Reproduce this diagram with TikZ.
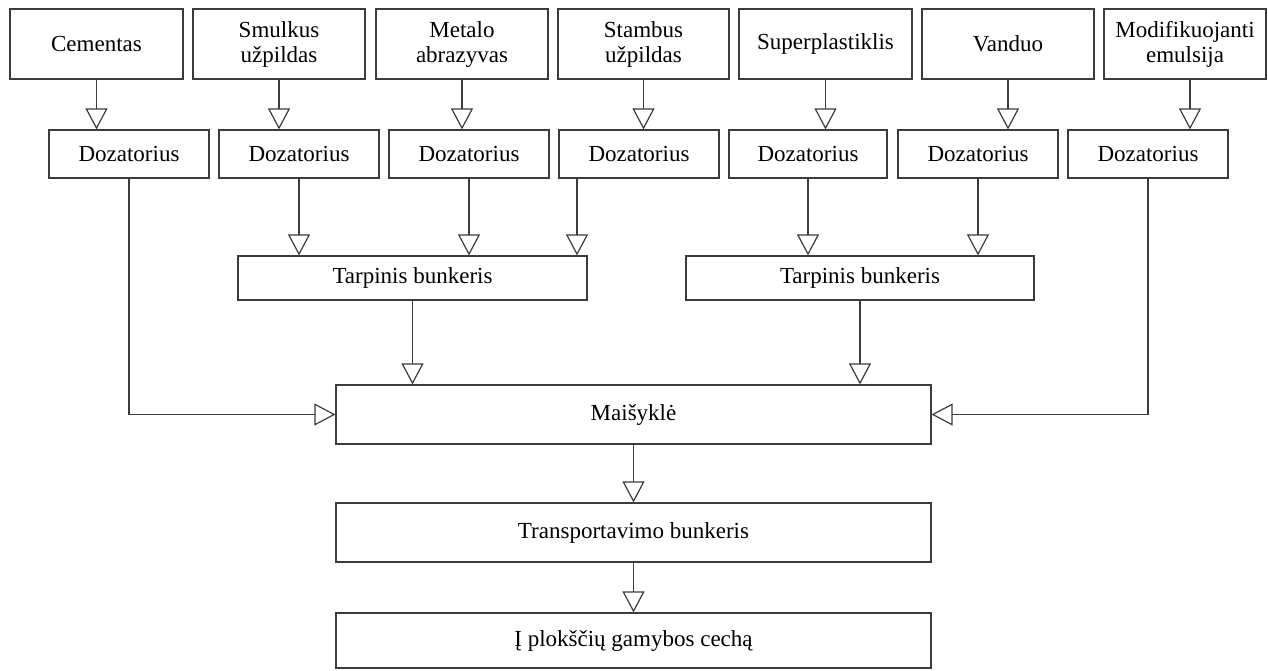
\documentclass[tikz,border=0pt]{standalone}
\usepackage{fontspec}
\setmainfont{Liberation Serif}
\usetikzlibrary{arrows.meta}
\definecolor{lc}{RGB}{60,60,60}
\newcommand\boxfont{\fontsize{23}{25}\selectfont}
\tikzset{
  box/.style={draw=lc, line width=1.2pt, inner sep=0pt, align=center, font=\boxfont, text=black},
  topbox/.style={box, minimum height=70pt},
  dozbox/.style={box, minimum width=160pt, minimum height=48pt},
  tarbox/.style={box, minimum width=348pt, minimum height=44pt},
  bigbox/.style={box, minimum width=595pt, minimum height=59pt},
  arr/.style={draw=lc, line width=1.2pt, -{Triangle[open, length=21pt, width=22pt]}}
}
\begin{document}
\begin{tikzpicture}[x=1pt, y=-1pt]
\useasboundingbox (0,0) rectangle (1268,670);
% top row
\node[topbox, minimum width=173pt] (cem) at (96.5,44) {Cementas};
\node[topbox, minimum width=172pt] (smu) at (279,44) {Smulkus\\užpildas};
\node[topbox, minimum width=172pt] (met) at (462,44) {Metalo\\abrazyvas};
\node[topbox, minimum width=171pt] (sta) at (643.5,44) {Stambus\\užpildas};
\node[topbox, minimum width=173pt] (sup) at (825.5,44) {Superplastiklis};
\node[topbox, minimum width=172pt] (van) at (1008,44) {Vanduo};
\node[topbox, minimum width=162pt] (mod) at (1185,44) {Modifikuojanti\\emulsija};
% dozatoriai
\node[dozbox] (d1) at (129,154) {Dozatorius};
\node[dozbox] (d2) at (299,154) {Dozatorius};
\node[dozbox] (d3) at (469,154) {Dozatorius};
\node[dozbox] (d4) at (639,154) {Dozatorius};
\node[dozbox, minimum width=158pt] (d5) at (808,154) {Dozatorius};
\node[dozbox] (d6) at (978,154) {Dozatorius};
\node[dozbox] (d7) at (1148,154) {Dozatorius};
% tarpiniai bunkeriai
\node[tarbox, minimum width=349pt] (t1) at (412.5,278) {Tarpinis bunkeris};
\node[tarbox] (t2) at (860,278) {Tarpinis bunkeris};
% bottom
\node[bigbox] (mix) at (633.5,414.5) {Maišyklė};
\node[bigbox] (tra) at (633.5,532.5) {Transportavimo bunkeris};
\node[bigbox, minimum height=55pt] (fin) at (633.5,640.5) {Į plokščių gamybos cechą};
% top -> dozatoriai
\draw[arr] (cem.south) -- (cem.south |- d1.north);
\draw[arr] (smu.south) -- (smu.south |- d2.north);
\draw[arr] (met.south) -- (met.south |- d3.north);
\draw[arr] (sta.south) -- (sta.south |- d4.north);
\draw[arr] (sup.south) -- (sup.south |- d5.north);
\draw[arr] (van.south) -- (van.south |- d6.north);
\draw[arr] ([xshift=5pt]mod.south) -- ([xshift=5pt]mod.south |- d7.north);
% dozatoriai -> tarpiniai
\draw[arr] (d2.south) -- (d2.south |- t1.north);
\draw[arr] (d3.south) -- (d3.south |- t1.north);
\draw[arr] ([xshift=-62pt]d4.south) -- ([xshift=-62pt]d4.south |- t1.north);
\draw[arr] (d5.south) -- (d5.south |- t2.north);
\draw[arr] (d6.south) -- (d6.south |- t2.north);
% -> maisykle
\draw[arr] (d1.south) |- (mix.west);
\draw[arr] (d7.south) |- (mix.east);
\draw[arr] (t1.south) -- (t1.south |- mix.north);
\draw[arr] (t2.south) -- (t2.south |- mix.north);
% chain
\draw[arr] (mix.south) -- (tra.north);
\draw[arr] (tra.south) -- (fin.north);
\end{tikzpicture}
\end{document}
